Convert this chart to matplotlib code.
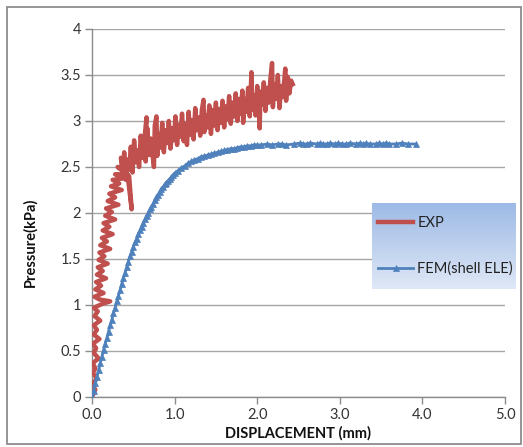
import numpy as np
import matplotlib
matplotlib.use("Agg")
import matplotlib.pyplot as plt
from matplotlib.patches import Rectangle

plt.rcParams['font.family'] = ['Lato', 'DejaVu Sans']

exp_disp = [0.00, 0.04, 0.00, 0.06, 0.01, 0.04, 0.01, 0.08, 0.02, 0.05,
            0.01, 0.09, 0.02, 0.06, 0.02, 0.10, 0.03, 0.07, 0.02, 0.12,
            0.22, 0.09, 0.03, 0.14, 0.04, 0.11, 0.05, 0.17, 0.06, 0.13,
            0.07, 0.19, 0.08, 0.15, 0.09, 0.22, 0.10, 0.18, 0.12, 0.25,
            0.13, 0.21, 0.14, 0.28, 0.16, 0.24, 0.17, 0.32, 0.19, 0.28,
            0.21, 0.36, 0.23, 0.33, 0.25, 0.41, 0.28, 0.43, 0.48, 0.45,
            0.31, 0.40, 0.35,
            0.37, 0.39, 0.41, 0.43, 0.45, 0.47, 0.49, 0.51, 0.53, 0.55,
            0.57, 0.59, 0.61, 0.63, 0.66, 0.65, 0.67, 0.69, 0.71, 0.73,
            0.75, 0.76, 0.78, 0.79, 0.81, 0.83, 0.85, 0.87, 0.89, 0.91,
            0.93, 0.95, 0.97, 0.99, 1.01, 1.03, 1.05, 1.07, 1.09, 1.11,
            1.13, 1.15, 1.17, 1.19, 1.21, 1.23, 1.25, 1.27, 1.29, 1.31,
            1.33, 1.35, 1.36, 1.38, 1.40, 1.42, 1.44, 1.46, 1.48, 1.50,
            1.52, 1.54, 1.56, 1.58, 1.60, 1.62, 1.64, 1.66, 1.68, 1.70,
            1.72, 1.74, 1.76, 1.78, 1.80, 1.82, 1.83, 1.85, 1.87, 1.89,
            1.91, 1.93, 1.94, 1.96, 1.98, 2.00, 2.02, 2.03, 2.04, 2.06,
            2.08, 2.10, 2.12, 2.14, 2.16, 2.18, 2.19, 2.21, 2.23, 2.25,
            2.27, 2.29, 2.31, 2.34, 2.35, 2.37, 2.39, 2.41, 2.43]
exp_pres = [0.00, 0.08, 0.14, 0.20, 0.26, 0.31, 0.37, 0.42, 0.48, 0.53,
            0.58, 0.63, 0.68, 0.73, 0.78, 0.83, 0.88, 0.93, 0.97, 1.01,
            1.04, 1.06, 1.09, 1.13, 1.17, 1.21, 1.25, 1.29, 1.33, 1.37,
            1.41, 1.45, 1.49, 1.53, 1.57, 1.61, 1.65, 1.69, 1.73, 1.77,
            1.81, 1.85, 1.89, 1.93, 1.97, 2.01, 2.05, 2.09, 2.13, 2.17,
            2.21, 2.25, 2.29, 2.32, 2.36, 2.38, 2.42, 2.42, 2.04, 2.40,
            2.50, 2.48, 2.60,
            2.40, 2.66, 2.36, 2.58, 2.47, 2.72, 2.44, 2.79, 2.55, 2.68,
            2.50, 2.84, 2.60, 2.76, 3.04, 2.56, 2.92, 2.63, 2.81, 2.66,
            2.50, 2.95, 3.05, 2.62, 2.86, 2.71, 2.98, 2.66, 2.90, 2.76,
            3.00, 2.70, 2.92, 2.79, 3.05, 2.74, 2.96, 2.83, 3.08, 2.78,
            2.97, 2.74, 3.10, 2.85, 3.01, 2.80, 3.14, 2.90, 3.04, 2.84,
            3.12, 3.23, 2.88, 3.06, 2.93, 3.17, 2.86, 3.12, 2.95, 3.20,
            2.90, 3.13, 2.98, 3.22, 2.93, 3.16, 3.02, 3.27, 2.97, 3.20,
            3.05, 3.30, 3.00, 3.24, 3.08, 3.33, 2.98, 3.24, 3.10, 3.36,
            3.05, 3.53, 3.12, 3.28, 3.06, 3.38, 3.14, 2.92, 3.32, 3.18,
            3.42, 3.11, 3.36, 3.20, 3.46, 3.63, 3.15, 3.40, 3.24, 3.50,
            3.14, 3.38, 3.26, 3.57, 3.22, 3.48, 3.30, 3.44, 3.40]

# FEM(shell ELE): smooth simulated curve
fem_disp = [0.00, 0.02, 0.04, 0.06, 0.08, 0.10, 0.12, 0.14, 0.16, 0.18,
            0.20, 0.22, 0.24, 0.26, 0.28, 0.30, 0.32, 0.34, 0.36, 0.38,
            0.40, 0.42, 0.44, 0.46, 0.48, 0.50, 0.52, 0.54, 0.56, 0.58,
            0.60, 0.62, 0.64, 0.66, 0.68, 0.70, 0.72, 0.74, 0.76, 0.78,
            0.80, 0.82, 0.84, 0.86, 0.88, 0.90, 0.92, 0.94, 0.96, 0.98,
            1.00, 1.04, 1.08, 1.12, 1.16, 1.20, 1.24, 1.28, 1.32, 1.36,
            1.40, 1.44, 1.48, 1.52, 1.56, 1.60, 1.64, 1.68, 1.72, 1.76,
            1.80, 1.84, 1.88, 1.92, 1.96, 2.00, 2.05, 2.12, 2.18, 2.25,
            2.30, 2.35, 2.45, 2.52, 2.56, 2.60, 2.64, 2.72, 2.76, 2.80,
            2.84, 2.88, 2.94, 2.98, 3.03, 3.08, 3.12, 3.20, 3.24, 3.28,
            3.32, 3.36, 3.44, 3.48, 3.52, 3.56, 3.60, 3.68, 3.75, 3.82,
            3.92]
fem_pres = [0.00, 0.07, 0.15, 0.22, 0.29, 0.37, 0.44, 0.51, 0.58, 0.64,
            0.71, 0.78, 0.84, 0.91, 0.97, 1.04, 1.10, 1.16, 1.23, 1.29,
            1.35, 1.41, 1.47, 1.53, 1.58, 1.63, 1.68, 1.72, 1.77, 1.81,
            1.85, 1.89, 1.93, 1.97, 2.00, 2.04, 2.07, 2.10, 2.14, 2.17,
            2.20, 2.23, 2.26, 2.28, 2.31, 2.33, 2.35, 2.37, 2.39, 2.41,
            2.43, 2.46, 2.49, 2.51, 2.54, 2.56, 2.58, 2.59, 2.61, 2.62,
            2.63, 2.64, 2.65, 2.66, 2.67, 2.68, 2.69, 2.70, 2.70, 2.71,
            2.72, 2.72, 2.73, 2.73, 2.74, 2.74, 2.74, 2.75, 2.74, 2.75,
            2.75, 2.74, 2.75, 2.76, 2.75, 2.75, 2.76, 2.75, 2.76, 2.75,
            2.75, 2.76, 2.75, 2.76, 2.75, 2.75, 2.76, 2.75, 2.76, 2.75,
            2.76, 2.75, 2.75, 2.76, 2.75, 2.76, 2.75, 2.75, 2.76, 2.75,
            2.75]

x_ticks = [0, 1, 2, 3, 4, 5]
x_tick_labels = ['0.0', '1.0', '2.0', '3.0', '4.0', '5.0']
y_ticks = [0, 0.5, 1, 1.5, 2, 2.5, 3, 3.5, 4]
y_tick_labels = ['0', '0.5', '1', '1.5', '2', '2.5', '3', '3.5', '4']

W, H = 523, 447
fig = plt.figure(figsize=(W / 100, H / 100), dpi=100)

# outer chart border
fig.patches.append(Rectangle((7 / W, 3 / H), 514 / W, 437 / H, transform=fig.transFigure,
                             fill=False, edgecolor='#8c8c8c', linewidth=1.3))

ax = fig.add_axes([92 / W, (H - 397) / H, 413 / W, 368 / H])
line_exp, = ax.plot(exp_disp, exp_pres, color='#C0504D', linewidth=3.2,
                    solid_joinstyle='round', label='EXP', zorder=3)
line_fem, = ax.plot(fem_disp, fem_pres, color='#4F81BD', linewidth=2.0,
                    marker='^', markersize=5, markeredgewidth=0.5,
                    label='FEM(shell ELE)', zorder=4)

ax.set_xlim(0, 5)
ax.set_ylim(0, 4)
ax.set_xticks(x_ticks)
ax.set_xticklabels(x_tick_labels)
ax.set_yticks(y_ticks)
ax.set_yticklabels(y_tick_labels)
ax.tick_params(axis='both', labelsize=10.5, colors='#8c8c8c', labelcolor='#333333',
               length=5, width=1, pad=3)
ax.yaxis.grid(True, color='#a6a6a6', linewidth=1)
ax.set_axisbelow(True)
for side in ['top', 'right']:
    ax.spines[side].set_visible(False)
for side in ['left', 'bottom']:
    ax.spines[side].set_color('#8c8c8c')
    ax.spines[side].set_linewidth(1)

fig.text(298 / W, (H - 433) / H, 'DISPLACEMENT (mm)', ha='center', va='center',
         fontsize=10.5, fontweight='bold', color='#111111')
fig.text(30 / W, (H - 242) / H, 'Pressure(kPa)', ha='center', va='center',
         rotation=90, fontsize=10.5, fontweight='bold', color='#111111')

# legend box with gradient fill
lax = fig.add_axes([372 / W, (H - 289) / H, 144 / W, 86 / H], zorder=5)
grad = np.linspace(0, 1, 100).reshape(-1, 1)
cmap = matplotlib.colors.LinearSegmentedColormap.from_list('lg', ['#9dbae6', '#dfe8f6'])
lax.imshow(grad, aspect='auto', cmap=cmap, extent=[0, 1, 0, 1], origin='upper')
lax.set_xlim(0, 1)
lax.set_ylim(0, 1)
lax.axis('off')
lax.legend(handles=[line_exp, line_fem], loc='center left', bbox_to_anchor=(6 / 144, 0.5),
           frameon=False, fontsize=10.5, handlelength=2.4, handletextpad=0.3,
           labelspacing=2.2, borderpad=0, borderaxespad=0, labelcolor='#222222')

fig.savefig('out.png', dpi=100)
